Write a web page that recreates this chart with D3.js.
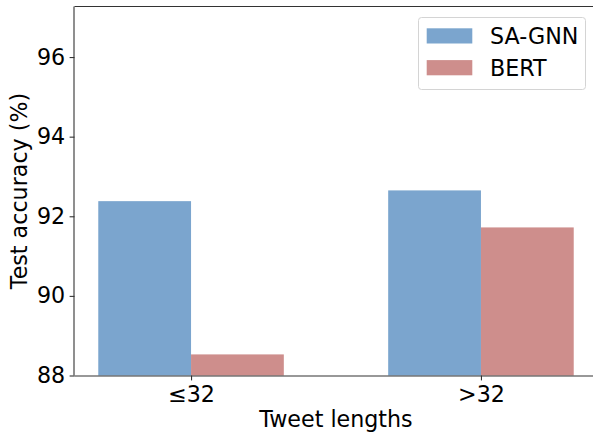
<!DOCTYPE html>
<html>
<head>
<meta charset="utf-8">
<script src="https://cdn.jsdelivr.net/npm/d3@7"></script>
<style>
  html, body { margin: 0; padding: 0; background: #fff; }
  svg { display: block; }
  text { font-family: "DejaVu Sans", sans-serif; fill: #000; }
</style>
</head>
<body>
<div id="chart"></div>
<script>
const categories = ["\u226432", ">32"];
const seriesNames = ["SA-GNN", "BERT"];
const saGnnValues = [92.38, 92.65];
const bertValues = [88.53, 91.72];
const yTicks = [88, 90, 92, 94, 96];
const colors = ["#7ba5ce", "#ce8e8c"];

const W = 593, H = 435;
const margin = { left: 74.5, right: 597.5, top: 6.5, bottom: 375.5 };
const fs = 22.2;

const svg = d3.select("#chart").append("svg")
  .attr("width", W).attr("height", H);

const barW = 0.32;
const x = d3.scaleLinear().domain([-0.402, 1.402]).range([margin.left, margin.right]);
const y = d3.scaleLinear().domain([88, 97.27]).range([margin.bottom, margin.top]);

const series = [saGnnValues, bertValues];

// bars
series.forEach((vals, si) => {
  svg.append("g").selectAll("rect").data(vals).join("rect")
    .attr("x", (d, i) => x(i + (si === 0 ? -barW : 0)))
    .attr("width", (d, i) => x(i + barW) - x(i))
    .attr("y", d => y(d))
    .attr("height", d => y(88) - y(d))
    .attr("fill", colors[si]);
});

// spines
const spine = svg.append("g").attr("stroke", "#333").attr("stroke-width", 1.1).attr("fill", "none");
spine.append("line").attr("x1", margin.left).attr("x2", margin.right).attr("y1", margin.top).attr("y2", margin.top);
spine.append("line").attr("x1", margin.right).attr("x2", margin.right).attr("y1", margin.top).attr("y2", margin.bottom);

// axes
const yAxis = d3.axisLeft(y).tickValues(yTicks).tickSize(4.9).tickPadding(4.5).tickFormat(d3.format("d"));
const gy = svg.append("g").attr("transform", `translate(${margin.left},0)`).call(yAxis);
const xAxis = d3.axisBottom(x).tickValues([0, 1]).tickSize(4.9).tickPadding(5.5).tickFormat(i => categories[i]);
const gx = svg.append("g").attr("transform", `translate(0,${margin.bottom})`).call(xAxis);

[gx, gy].forEach(g => {
  g.select(".domain").attr("stroke", "#333").attr("stroke-width", 1.1);
  g.selectAll(".tick line").attr("stroke", "#333").attr("stroke-width", 1.1);
  g.selectAll(".tick text").attr("font-family", "DejaVu Sans").attr("font-size", fs).attr("fill", "#000");
});
gx.select(".domain").attr("d", `M${margin.left},0.5H${margin.right}`);
gy.select(".domain").attr("d", `M-0.5,${margin.bottom}V${margin.top}`);

// axis labels
svg.append("text")
  .attr("x", (margin.left + margin.right) / 2).attr("y", 427)
  .attr("text-anchor", "middle").attr("font-size", fs)
  .text("Tweet lengths");
svg.append("text")
  .attr("transform", `translate(27,${(margin.top + margin.bottom) / 2}) rotate(-90)`)
  .attr("text-anchor", "middle").attr("font-size", fs)
  .text("Test accuracy (%)");

// legend
const lg = svg.append("g");
lg.append("rect")
  .attr("x", 418.5).attr("y", 17.5).attr("width", 167).attr("height", 72)
  .attr("rx", 3).attr("fill", "#fff").attr("fill-opacity", 0.8)
  .attr("stroke", "#d4d4d4").attr("stroke-width", 1);
seriesNames.forEach((name, i) => {
  const yy = 28.3 + i * 31.8;
  lg.append("rect").attr("x", 426.7).attr("y", yy).attr("width", 45.6).attr("height", 15.2).attr("fill", colors[i]);
  lg.append("text").attr("x", 490).attr("y", yy + 15.4).attr("font-size", fs).text(name);
});
</script>
</body>
</html>
